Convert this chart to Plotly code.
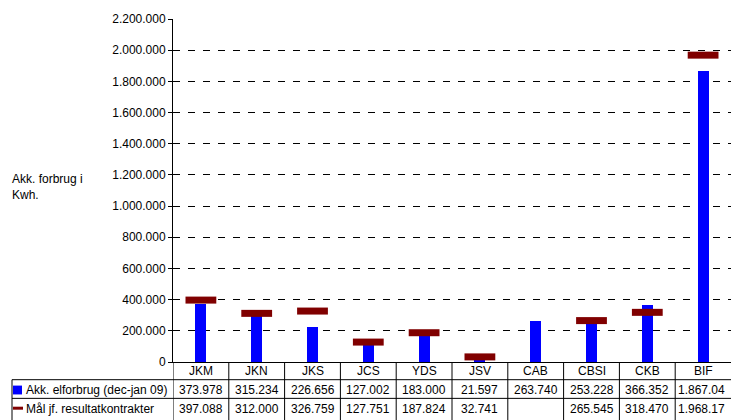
import plotly.graph_objects as go

categories = ["JKM", "JKN", "JKS", "JCS", "YDS", "JSV", "CAB", "CBSI", "CKB", "BIF"]
forbrug = [373978, 315234, 226656, 127002, 183000, 21597, 263740, 253228, 366352, 1867047]
maal = [397088, 312000, 326759, 127751, 187824, 32741, None, 265545, 318470, 1968178]

name_forbrug = "Akk. elforbrug (dec-jan 09)"
name_maal = "Mål jf. resultatkontrakter"
y_title = "Akk. forbrug i<br>Kwh."

W, H = 746, 420
L, R, T, B = 173, 15, 13, 58
plot_h = H - T - B
plot_w = W - L - R
font = dict(family="Liberation Sans, Arial, sans-serif", size=12, color="black")


def py(p):
    # pixel row -> paper y
    return (H - B - p) / plot_h


def px(p):
    # pixel column -> paper x
    return (p - L) / plot_w


def fmt(v):
    return "" if v is None else f"{v:,}".replace(",", ".")


fig = go.Figure()

fig.add_trace(go.Bar(
    name=name_forbrug,
    x=categories,
    y=forbrug,
    width=0.2,
    marker=dict(color="#0000FF", line=dict(width=0)),
))

fig.add_trace(go.Scatter(
    name=name_maal,
    x=categories,
    y=maal,
    mode="markers",
    marker=dict(symbol="line-ew", size=22, color="#800000",
                line=dict(width=7, color="#800000")),
))

shapes = []
annotations = []

# data table below the plot
line = dict(color="black", width=1)
row_lines = [380, 399]
for rl in row_lines:
    shapes.append(dict(type="line", xref="paper", yref="paper",
                       x0=px(12), x1=1, y0=py(rl), y1=py(rl), line=line))
shapes.append(dict(type="line", xref="paper", yref="paper",
                   x0=px(12), x1=px(12), y0=py(380), y1=py(H + 2), line=line))
for i in range(len(categories)):
    shapes.append(dict(type="line", xref="x", yref="paper",
                       x0=i - 0.5, x1=i - 0.5, y0=0, y1=py(H + 2), line=line))

# legend keys in table
shapes.append(dict(type="rect", xref="paper", yref="paper",
                   x0=px(13), x1=px(22), y0=py(395), y1=py(386),
                   fillcolor="#0000FF", line=dict(width=0)))
shapes.append(dict(type="line", xref="paper", yref="paper",
                   x0=px(13), x1=px(23), y0=py(409), y1=py(409),
                   line=dict(color="#800000", width=3)))

annotations.append(dict(text=name_forbrug, xref="paper", yref="paper",
                        x=px(24), y=py(390), xanchor="left", yanchor="middle",
                        showarrow=False, font=font))
annotations.append(dict(text=name_maal, xref="paper", yref="paper",
                        x=px(24), y=py(410), xanchor="left", yanchor="middle",
                        showarrow=False, font=font))

rows = [(forbrug, 390), (maal, 410)]
for i, c in enumerate(categories):
    annotations.append(dict(text=c, xref="x", yref="paper", x=i, y=py(371),
                            xanchor="center", yanchor="middle",
                            showarrow=False, font=font))
    for vals, yc in rows:
        t = fmt(vals[i])
        if not t:
            continue
        if len(t) > 7:
            # too wide for the cell: left aligned and clipped like the original
            annotations.append(dict(text=t, xref="x", yref="paper", x=i - 0.5,
                                    xshift=1, y=py(yc), xanchor="left",
                                    yanchor="middle", width=47, align="left",
                                    showarrow=False, font=font))
        else:
            annotations.append(dict(text=t, xref="x", yref="paper", x=i,
                                    y=py(yc), xanchor="center", yanchor="middle",
                                    showarrow=False, font=font))

annotations.append(dict(text=y_title, xref="paper", yref="paper",
                        x=px(10), y=py(184), xanchor="left", yanchor="middle",
                        align="left", showarrow=False, font=font))

fig.update_layout(
    width=W, height=H,
    margin=dict(l=L, r=R, t=T, b=B, pad=0),
    paper_bgcolor="white", plot_bgcolor="white",
    font=font,
    separators=",.",
    showlegend=False,
    bargap=0,
    shapes=shapes,
    annotations=annotations,
)
fig.update_xaxes(
    type="category", range=[-0.5, len(categories) - 0.5],
    showticklabels=False, ticks="", showgrid=False,
    showline=True, linecolor="black", linewidth=1,
)
fig.update_yaxes(
    range=[0, 2200000], dtick=200000, tickformat=",d",
    showgrid=True, gridcolor="black", gridwidth=1, griddash="7px,8px",
    showline=True, linecolor="black", linewidth=1,
    ticks="outside", ticklen=4, tickcolor="black",
    zeroline=False, tickfont=font,
)

fig.write_html("out.html", config={"displayModeBar": False},
               post_script="document.body.style.margin='0';document.body.style.overflow='hidden';")
